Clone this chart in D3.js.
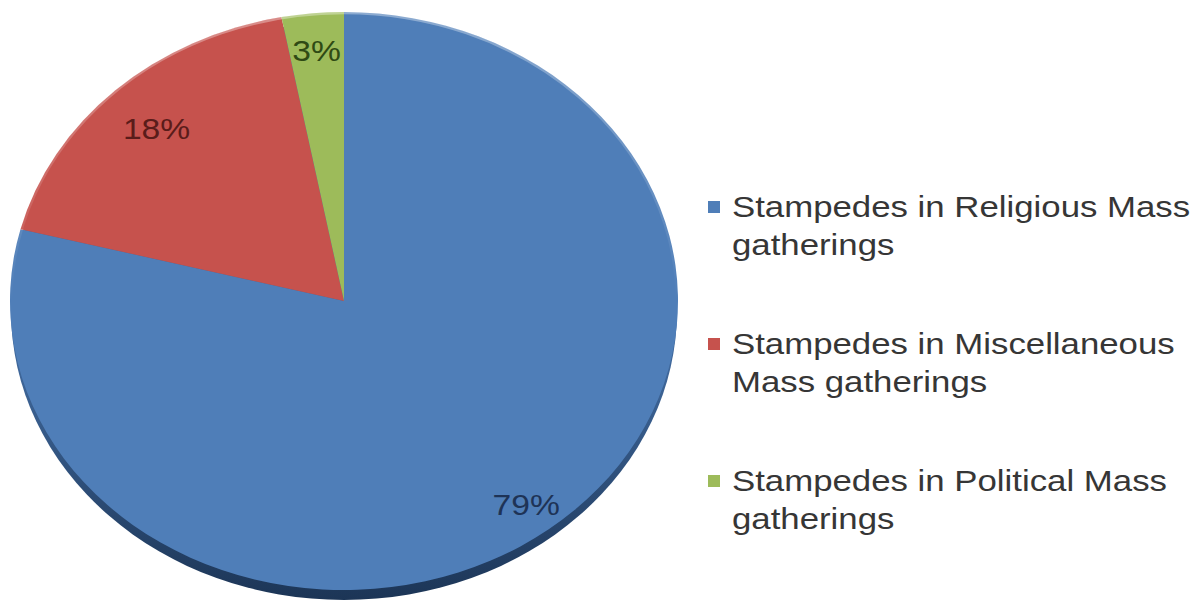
<!DOCTYPE html>
<html>
<head>
<meta charset="utf-8">
<script src="https://cdn.jsdelivr.net/npm/d3@7"></script>
<style>
html,body{margin:0;padding:0;background:#fff;}
svg{display:block;}
</style>
</head>
<body>
<svg id="chart" width="1200" height="608"></svg>
<script>
const categories = [
  "Stampedes in Religious Mass gatherings",
  "Stampedes in Miscellaneous Mass gatherings",
  "Stampedes in Political Mass gatherings"
];
const values = [79, 18, 3];
const legendLines = [
  ["Stampedes in Religious Mass", "gatherings"],
  ["Stampedes in Miscellaneous", "Mass gatherings"],
  ["Stampedes in Political Mass", "gatherings"]
];
const colors = ["#4f7eb8", "#c6524d", "#9dbb5a"];
const labelColors = ["#1e3356", "#5a1c1a", "#2f4a14"];

const svg = d3.select("#chart");
const cx = 344, cy = 301, rx = 334, ry = 289, depth = 10;
const stretch = 1.16;

const data = categories.map((c, i) => ({cat: c, value: values[i], i}));
const pie = d3.pie().value(d => d.value).sort(null);
const arcs = pie(data);
const arc = d3.arc().innerRadius(0).outerRadius(rx);

const defs = svg.append("defs");
const side = defs.append("linearGradient").attr("id", "side")
  .attr("x1", "0").attr("y1", "0").attr("x2", "0").attr("y2", "1");
side.append("stop").attr("offset", "0.6").attr("stop-color", "#3f679a");
side.append("stop").attr("offset", "1").attr("stop-color", "#1c3556");

// side (depth) of the 3D pie
svg.append("ellipse")
  .attr("cx", cx).attr("cy", cy + depth)
  .attr("rx", rx - 1).attr("ry", ry)
  .attr("fill", "url(#side)");

const g = svg.append("g")
  .attr("transform", `translate(${cx},${cy}) scale(1,${ry / rx})`);

g.selectAll("path.slice")
  .data(arcs)
  .join("path")
  .attr("class", "slice")
  .attr("d", arc)
  .attr("fill", d => colors[d.data.i]);

// subtle light rim highlight on upper edge
const grad = defs.append("linearGradient").attr("id", "rim")
  .attr("x1", "0").attr("y1", "0").attr("x2", "0").attr("y2", "1");
grad.append("stop").attr("offset", "0").attr("stop-color", "#ffffff").attr("stop-opacity", 0.35);
grad.append("stop").attr("offset", "0.5").attr("stop-color", "#ffffff").attr("stop-opacity", 0);
g.append("circle").attr("r", rx - 1)
  .attr("fill", "none").attr("stroke", "url(#rim)").attr("stroke-width", 3);

// percentage labels along each slice's mid angle
const labelRadius = [0.89, 0.82, 0.87];
const lbl = svg.append("g");
arcs.forEach((a, k) => {
  const mid = (a.startAngle + a.endAngle) / 2;
  const r = rx * labelRadius[k];
  const x = cx + Math.sin(mid) * r;
  const y = cy - Math.cos(mid) * r * (ry / rx);
  lbl.append("text")
    .attr("transform", `translate(${x},${y}) scale(${stretch},1)`)
    .attr("text-anchor", "middle")
    .attr("dy", "0.36em")
    .attr("font-family", "Liberation Sans, Arial, sans-serif")
    .attr("font-size", 29)
    .attr("fill", labelColors[a.data.i])
    .text(a.data.value + "%");
});

// legend
const legend = svg.append("g");
const legX = 708, legY0 = 217, groupGap = 137, lineGap = 38;
legendLines.forEach((lines, i) => {
  const y = legY0 + i * groupGap;
  legend.append("rect")
    .attr("x", legX).attr("y", y - 16)
    .attr("width", 12).attr("height", 12)
    .attr("fill", colors[i]);
  const t = legend.append("text")
    .attr("transform", `translate(${legX + 24},${y}) scale(${stretch},1)`)
    .attr("font-family", "Liberation Sans, Arial, sans-serif")
    .attr("font-size", 30)
    .attr("fill", "#363636");
  lines.forEach((ln, j) => {
    t.append("tspan").attr("x", 0).attr("y", j * lineGap).text(ln);
  });
});
</script>
</body>
</html>
